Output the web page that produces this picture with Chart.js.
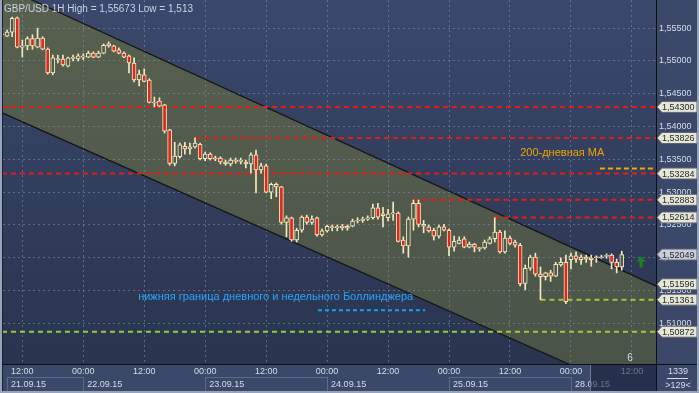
<!DOCTYPE html>
<html>
<head>
<meta charset="utf-8">
<script src="https://cdn.jsdelivr.net/npm/chart.js@4.4.1/dist/chart.umd.min.js"></script>
<style>
  html, body { margin: 0; padding: 0; background: #3b4869; }
  canvas { display: block; }
</style>
</head>
<body>
<canvas id="gbpusd" width="699" height="393"></canvas>
<script>
// GBP/USD 1H - hours counted from 21.09.15 00:00 (weekend skipped)
const FIRST_HOUR = 8;

const openP = [
  1.5541, 1.5538, 1.5544, 1.5566, 1.5521, 1.5523, 1.5534, 1.5521, 1.5535, 1.5518,
  1.5482, 1.5502, 1.5503, 1.5492, 1.5505, 1.5503, 1.5506, 1.5506, 1.5512, 1.5506,
  1.5512, 1.5526, 1.5523, 1.5517, 1.5512, 1.5508, 1.5497, 1.5471, 1.5479, 1.5471,
  1.5436, 1.5439, 1.5433, 1.5395, 1.5344, 1.5354, 1.5370, 1.5366, 1.5369, 1.5373,
  1.5351, 1.5358, 1.5352, 1.5352, 1.5346, 1.5343, 1.5348, 1.5347, 1.5346, 1.5343,
  1.5357, 1.5334, 1.5340, 1.5300, 1.5312, 1.5308, 1.5254, 1.5261, 1.5227, 1.5242,
  1.5262, 1.5254, 1.5261, 1.5235, 1.5241, 1.5247, 1.5246, 1.5248, 1.5248, 1.5248,
  1.5256, 1.5257, 1.5259, 1.5261, 1.5276, 1.5264, 1.5261, 1.5267, 1.5268, 1.5227,
  1.5218, 1.5259, 1.5283, 1.5248, 1.5247, 1.5242, 1.5233, 1.5247, 1.5242, 1.5216,
  1.5222, 1.5229, 1.5216, 1.5221, 1.5215, 1.5215, 1.5222, 1.5229, 1.5239, 1.5209,
  1.5230, 1.5224, 1.5219, 1.5161, 1.5184, 1.5201, 1.5175, 1.5171, 1.5177, 1.5172,
  1.5189, 1.5193, 1.5197, 1.5203, 1.5197, 1.5201, 1.5197, 1.5201, 1.5200, 1.5202,
  1.5204, 1.5193, 1.5186
];
const highP = [
  1.5544, 1.5547, 1.5567, 1.5567, 1.5532, 1.5537, 1.5540, 1.5550, 1.5537, 1.5520,
  1.5509, 1.5509, 1.5509, 1.5506, 1.5509, 1.5511, 1.5511, 1.5515, 1.5514, 1.5515,
  1.5526, 1.5529, 1.5524, 1.5520, 1.5514, 1.5509, 1.5505, 1.5486, 1.5488, 1.5473,
  1.5445, 1.5444, 1.5434, 1.5396, 1.5376, 1.5375, 1.5376, 1.5375, 1.5383, 1.5375,
  1.5361, 1.5360, 1.5355, 1.5354, 1.5349, 1.5352, 1.5352, 1.5352, 1.5349, 1.5360,
  1.5364, 1.5344, 1.5343, 1.5314, 1.5314, 1.5309, 1.5264, 1.5262, 1.5245, 1.5264,
  1.5265, 1.5264, 1.5262, 1.5244, 1.5250, 1.5250, 1.5250, 1.5251, 1.5250, 1.5259,
  1.5261, 1.5262, 1.5264, 1.5282, 1.5283, 1.5277, 1.5274, 1.5285, 1.5270, 1.5232,
  1.5262, 1.5288, 1.5288, 1.5257, 1.5250, 1.5245, 1.5250, 1.5251, 1.5244, 1.5233,
  1.5232, 1.5232, 1.5224, 1.5222, 1.5216, 1.5227, 1.5232, 1.5261, 1.5242, 1.5241,
  1.5233, 1.5227, 1.5222, 1.5189, 1.5204, 1.5207, 1.5186, 1.5178, 1.5181, 1.5193,
  1.5200, 1.5204, 1.5207, 1.5209, 1.5204, 1.5204, 1.5204, 1.5203, 1.5204, 1.5206,
  1.5206, 1.5198, 1.5210
];
const lowP = [
  1.5537, 1.5537, 1.5537, 1.5520, 1.5506, 1.5517, 1.5518, 1.5520, 1.5517, 1.5480,
  1.5479, 1.5497, 1.5492, 1.5491, 1.5500, 1.5500, 1.5502, 1.5505, 1.5505, 1.5505,
  1.5511, 1.5521, 1.5514, 1.5511, 1.5505, 1.5482, 1.5468, 1.5462, 1.5468, 1.5436,
  1.5430, 1.5430, 1.5390, 1.5341, 1.5340, 1.5352, 1.5358, 1.5358, 1.5367, 1.5349,
  1.5348, 1.5349, 1.5348, 1.5343, 1.5341, 1.5340, 1.5344, 1.5343, 1.5337, 1.5329,
  1.5299, 1.5329, 1.5299, 1.5290, 1.5293, 1.5251, 1.5232, 1.5225, 1.5224, 1.5239,
  1.5251, 1.5251, 1.5233, 1.5233, 1.5239, 1.5241, 1.5241, 1.5242, 1.5242, 1.5247,
  1.5253, 1.5254, 1.5257, 1.5259, 1.5259, 1.5247, 1.5256, 1.5257, 1.5224, 1.5207,
  1.5201, 1.5242, 1.5247, 1.5238, 1.5239, 1.5227, 1.5230, 1.5241, 1.5203, 1.5210,
  1.5221, 1.5215, 1.5215, 1.5209, 1.5210, 1.5213, 1.5221, 1.5224, 1.5207, 1.5207,
  1.5220, 1.5216, 1.5157, 1.5151, 1.5181, 1.5172, 1.5136, 1.5166, 1.5164, 1.5171,
  1.5187, 1.5130, 1.5183, 1.5193, 1.5190, 1.5193, 1.5187, 1.5193, 1.5199, 1.5199,
  1.5183, 1.5177, 1.5181
];
const closeP = [
  1.5540, 1.5544, 1.5565, 1.5521, 1.5523, 1.5534, 1.5523, 1.5535, 1.5518, 1.5482,
  1.5505, 1.5503, 1.5494, 1.5505, 1.5504, 1.5508, 1.5507, 1.5512, 1.5506, 1.5512,
  1.5524, 1.5523, 1.5515, 1.5512, 1.5506, 1.5497, 1.5471, 1.5480, 1.5469, 1.5437,
  1.5437, 1.5431, 1.5393, 1.5344, 1.5355, 1.5372, 1.5366, 1.5369, 1.5375, 1.5351,
  1.5358, 1.5351, 1.5351, 1.5346, 1.5343, 1.5349, 1.5347, 1.5348, 1.5343, 1.5357,
  1.5334, 1.5340, 1.5300, 1.5312, 1.5308, 1.5254, 1.5261, 1.5227, 1.5242, 1.5262,
  1.5254, 1.5259, 1.5235, 1.5241, 1.5248, 1.5246, 1.5247, 1.5246, 1.5245, 1.5256,
  1.5257, 1.5259, 1.5261, 1.5276, 1.5262, 1.5267, 1.5267, 1.5268, 1.5225, 1.5218,
  1.5259, 1.5283, 1.5251, 1.5251, 1.5241, 1.5233, 1.5247, 1.5242, 1.5216, 1.5225,
  1.5227, 1.5216, 1.5221, 1.5216, 1.5214, 1.5224, 1.5229, 1.5239, 1.5209, 1.5230,
  1.5222, 1.5219, 1.5160, 1.5184, 1.5201, 1.5175, 1.5171, 1.5177, 1.5172, 1.5190,
  1.5193, 1.5133, 1.5203, 1.5198, 1.5201, 1.5198, 1.5200, 1.5200, 1.5201, 1.5203,
  1.5193, 1.5186, 1.5205
];

const timeTicks = [12, 24, 36, 48, 60, 72, 84, 96, 108, 120, 132];
const timeLabels = ['12:00', '00:00', '12:00', '00:00', '12:00', '00:00', '12:00', '00:00', '12:00', '00:00', '12:00'];
const dayStarts = [0, 24, 48, 72, 96, 120];
const dayLabels = ['21.09.15', '22.09.15', '23.09.15', '24.09.15', '25.09.15', '28.09.15'];
const priceTicks = [1.510, 1.515, 1.520, 1.525, 1.530, 1.535, 1.540, 1.545, 1.550, 1.555];

// horizontal levels
const resistance = [1.54300, 1.53826, 1.53284, 1.52883, 1.52614];
const resistanceFrom = [8, 46, 8, 89, 105];
const support = [1.51361, 1.50872];
const supportFrom = [114, 8];
const ma200 = 1.5336;
const ma200Span = [125.7, 136.3];
const bollinger = 1.5120;
const bollingerSpan = [70.2, 91.3];

// down channel
const channelX = [8, 137];
const channelTop = [1.5614, 1.5156];
const channelBottom = [1.5421, 1.4978];

const lastPrice = 1.52049;
const channelNow = 1.51596;

const FONT = '"Liberation Sans", Arial, sans-serif';
const TXT = '#d6dce9';
const CREAM = '#f3ebbf';
const BEAR = '#e3261c';
const BULL = '#505a4c';
const GRID = 'rgba(125,140,170,0.6)';

const hours = openP.map((_, i) => FIRST_HOUR + i);
const wicks = hours.map((h, i) => ({x: h, y: [lowP[i], highP[i]]}));
const bodies = hours.map((h, i) => ({x: h, y: [openP[i], closeP[i]]}));

function level(value, from, to, color, dash) {
  return {
    type: 'line',
    data: [{x: from, y: value}, {x: to, y: value}],
    borderColor: color,
    borderWidth: 2,
    borderDash: dash,
    pointRadius: 0,
    order: 3
  };
}

const levelSets = [];
resistance.forEach((v, i) => levelSets.push(level(v, resistanceFrom[i], 137, '#e81c14', [5, 4])));
support.forEach((v, i) => levelSets.push(level(v, supportFrom[i], 137, '#9ccb3a', [5, 4])));
levelSets.push(level(ma200, ma200Span[0], ma200Span[1], '#f2a900', [5, 3]));
levelSets.push(level(bollinger, bollingerSpan[0], bollingerSpan[1], '#1e9cf2', [4, 3]));

const channelEdge = (vals) => ({
  type: 'line',
  data: channelX.map((x, i) => ({x: x, y: vals[i]})),
  borderColor: '#141414',
  borderWidth: 1.2,
  pointRadius: 0,
  order: 4
});

// background, channel fill
const backdrop = {
  id: 'backdrop',
  beforeDraw(chart) {
    const {ctx, chartArea: a, width, height, scales: {x, y}} = chart;
    ctx.save();
    ctx.fillStyle = '#3b4869';
    ctx.fillRect(0, 0, width, height);
    const g = ctx.createLinearGradient(0, a.top, 0, a.bottom);
    g.addColorStop(0, '#3b486b');
    g.addColorStop(1, '#29344f');
    ctx.fillStyle = g;
    ctx.fillRect(a.left, a.top, a.right - a.left, a.bottom - a.top);

    ctx.beginPath();
    ctx.rect(a.left, a.top, a.right - a.left, a.bottom - a.top);
    ctx.clip();
    ctx.beginPath();
    channelX.forEach((h, i) => ctx.lineTo(x.getPixelForValue(h), y.getPixelForValue(channelTop[i])));
    for (let i = channelX.length - 1; i >= 0; i--) {
      ctx.lineTo(x.getPixelForValue(channelX[i]), y.getPixelForValue(channelBottom[i]));
    }
    ctx.closePath();
    const cg = ctx.createLinearGradient(0, a.top, 0, a.bottom);
    cg.addColorStop(0, '#58614f');
    cg.addColorStop(1, '#4a5348');
    ctx.fillStyle = cg;
    ctx.fill();
    ctx.restore();
  }
};

function priceTag(ctx, py, text, fill) {
  const x0 = 657, h = 11;
  ctx.beginPath();
  ctx.moveTo(x0, py);
  ctx.lineTo(x0 + 5, py - h / 2);
  ctx.lineTo(697, py - h / 2);
  ctx.lineTo(697, py + h / 2);
  ctx.lineTo(x0 + 5, py + h / 2);
  ctx.closePath();
  ctx.fillStyle = fill;
  ctx.fill();
  ctx.strokeStyle = '#5d6371';
  ctx.lineWidth = 1;
  ctx.stroke();
  ctx.fillStyle = '#1b2435';
  ctx.textAlign = 'left';
  ctx.fillText(text, 662, py + 0.5);
}

const overlay = {
  id: 'overlay',
  afterDatasetsDraw(chart) {
    const {ctx, scales: {x, y}} = chart;
    ctx.save();
    ctx.font = '11px ' + FONT;
    ctx.textBaseline = 'middle';
    ctx.textAlign = 'left';
    ctx.fillStyle = '#f2a400';
    ctx.fillText('200-дневная MA', x.getPixelForValue(110), y.getPixelForValue(1.5360));
    ctx.fillStyle = '#2aa6ff';
    ctx.fillText('нижняя граница дневного и недельного Боллинджера', x.getPixelForValue(34.8), y.getPixelForValue(1.5140));

    ctx.font = '10px ' + FONT;
    ctx.fillStyle = TXT;
    ctx.fillText('6', x.getPixelForValue(131.1), y.getPixelForValue(1.5047));

    // green arrow
    const ax = x.getPixelForValue(133.8), ay = y.getPixelForValue(1.5202);
    ctx.fillStyle = '#12881a';
    ctx.beginPath();
    ctx.moveTo(ax, ay);
    ctx.lineTo(ax + 4.5, ay + 5);
    ctx.lineTo(ax + 1.5, ay + 5);
    ctx.lineTo(ax + 1.5, ay + 11);
    ctx.lineTo(ax - 1.5, ay + 11);
    ctx.lineTo(ax - 1.5, ay + 5);
    ctx.lineTo(ax - 4.5, ay + 5);
    ctx.closePath();
    ctx.fill();
    ctx.restore();
  },
  afterDraw(chart) {
    const {ctx, chartArea: a, width, height, scales: {x, y}} = chart;
    ctx.save();
    ctx.font = '10px ' + FONT;
    ctx.textBaseline = 'middle';
    ctx.textAlign = 'left';
    ctx.fillStyle = '#c9d2e3';
    ctx.fillText('GBP/USD 1H High = 1,55673 Low = 1,513', 4, 9);

    // date row
    ctx.font = '9px ' + FONT;
    dayStarts.forEach((d, i) => {
      const left = Math.max(x.getPixelForValue(d), 7);
      const right = i < dayStarts.length - 1 ? x.getPixelForValue(dayStarts[i + 1]) : a.right;
      if (i % 2 === 0) {
        ctx.strokeStyle = '#5b6a8a';
        ctx.lineWidth = 1;
        ctx.strokeRect(Math.round(left) + 0.5, 377.5, Math.round(right - left), 15);
      }
      ctx.fillStyle = TXT;
      ctx.fillText(dayLabels[i], left + 4, 384.5);
    });

    // dim future zone in the time axis
    ctx.fillStyle = 'rgba(22,30,52,0.55)';
    ctx.fillRect(591, a.bottom + 1, a.right - 591, height - a.bottom - 3);
    ctx.fillStyle = '#6d7b98';
    ctx.fillRect(590, a.bottom + 1, 1, height - a.bottom - 3);

    // separators
    ctx.fillStyle = '#0c0f16';
    ctx.fillRect(0, a.bottom, width, 1);
    ctx.fillRect(a.right, 0, 1, height);

    // price tags
    ctx.font = '9px ' + FONT;
    const fmt = v => v.toFixed(5).replace('.', ',');
    resistance.forEach(v => priceTag(ctx, y.getPixelForValue(v), fmt(v), '#e8e7d4'));
    priceTag(ctx, y.getPixelForValue(lastPrice), fmt(lastPrice), '#c9cdd7');
    priceTag(ctx, y.getPixelForValue(channelNow), fmt(channelNow), '#e8e7d4');
    support.forEach(v => priceTag(ctx, y.getPixelForValue(v), fmt(v), '#e8e7d4'));

    // corner counters
    ctx.textAlign = 'center';
    ctx.fillStyle = TXT;
    ctx.fillText('1339', 678, 372);
    ctx.fillRect(667, 378, 21, 1);
    ctx.fillText('>129<', 678, 386);

    // outer frame
    ctx.fillStyle = '#97a4bb';
    ctx.fillRect(0, 0, 2, height);
    ctx.fillRect(width - 2, 0, 2, height);
    ctx.fillRect(0, height - 2, width, 2);
    ctx.fillStyle = '#1a2030';
    ctx.fillRect(2, 0, 1, height - 2);
    ctx.restore();
  }
};

const chart = new Chart(document.getElementById('gbpusd'), {
  type: 'bar',
  data: {
    datasets: [
      {
        data: bodies,
        grouped: false,
        barThickness: 4,
        minBarLength: 1,
        borderWidth: 1,
        borderSkipped: false,
        borderColor: CREAM,
        backgroundColor: ctx => closeP[ctx.dataIndex] < openP[ctx.dataIndex] ? BEAR : BULL,
        order: 1
      },
      {
        data: wicks,
        grouped: false,
        barThickness: 1,
        borderWidth: 0,
        backgroundColor: CREAM,
        order: 2
      },
      ...levelSets,
      channelEdge(channelTop),
      channelEdge(channelBottom)
    ]
  },
  options: {
    responsive: false,
    animation: false,
    events: [],
    layout: { padding: { left: 3, top: 0, right: 0, bottom: 0 } },
    plugins: {
      legend: { display: false },
      tooltip: { enabled: false }
    },
    scales: {
      x: {
        type: 'linear',
        min: 8.2,
        max: 136.74,
        offset: false,
        afterBuildTicks: s => { s.ticks = timeTicks.map(v => ({value: v})); },
        afterFit: s => { s.height = 29; s.paddingLeft = 0; s.paddingRight = 0; },
        grid: { color: GRID, drawTicks: false, offset: false },
        border: { display: false, dash: [2, 3] },
        ticks: {
          autoSkip: false,
          maxRotation: 0,
          padding: 2,
          color: TXT,
          font: { family: FONT, size: 9 },
          callback: (v, i) => timeLabels[i]
        }
      },
      y: {
        type: 'linear',
        position: 'right',
        min: 1.5038,
        max: 1.5593,
        afterBuildTicks: s => { s.ticks = priceTicks.map(v => ({value: v})); },
        afterFit: s => { s.width = 43; s.paddingTop = 0; s.paddingBottom = 0; },
        grid: { color: GRID, drawTicks: false },
        border: { display: false, dash: [2, 3] },
        ticks: {
          padding: 3,
          color: TXT,
          font: { family: FONT, size: 9 },
          callback: v => v.toFixed(5).replace('.', ',')
        }
      }
    }
  },
  plugins: [backdrop, overlay]
});
</script>
</body>
</html>
